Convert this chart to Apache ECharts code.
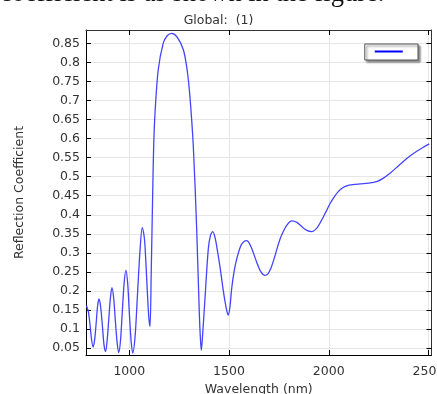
<!DOCTYPE html>
<html>
<head>
<meta charset="utf-8">
<script src="https://cdn.jsdelivr.net/npm/echarts@6/dist/echarts.min.js"></script>
<style>
html,body{margin:0;padding:0;background:#fff;}
#chart{width:437px;height:394px;}
</style>
</head>
<body>
<div id="chart"></div>
<script>
// Data
var wavelength = [785, 795, 803, 811, 819, 827, 834, 841, 848, 856, 865, 873, 881, 889, 897, 905, 913, 922, 930, 939, 947, 956, 965, 974, 983, 992, 1000, 1009, 1017, 1029, 1040, 1053, 1065, 1074, 1079, 1090, 1098, 1104, 1110, 1117, 1122, 1129, 1145, 1170, 1190, 1213, 1240, 1271, 1290, 1304, 1321, 1338, 1351, 1356, 1361, 1367, 1380, 1396, 1407, 1418, 1430, 1443, 1455, 1468, 1480, 1490, 1496, 1505, 1513, 1525, 1539, 1560, 1575, 1589, 1605, 1622, 1639, 1660, 1680, 1695, 1710, 1725, 1739, 1755, 1772, 1790, 1814, 1840, 1865, 1890, 1915, 1940, 1960, 1985, 2006, 2030, 2050, 2070, 2090, 2120, 2157, 2200, 2240, 2270, 2307, 2350, 2391, 2430, 2470, 2504];
var reflection = [0.162, 0.145, 0.112, 0.072, 0.053, 0.075, 0.116, 0.160, 0.179, 0.160, 0.110, 0.060, 0.041, 0.070, 0.125, 0.180, 0.209, 0.180, 0.123, 0.065, 0.038, 0.070, 0.146, 0.220, 0.254, 0.220, 0.145, 0.070, 0.037, 0.080, 0.180, 0.300, 0.366, 0.345, 0.317, 0.203, 0.130, 0.107, 0.250, 0.448, 0.575, 0.667, 0.780, 0.850, 0.870, 0.876, 0.866, 0.833, 0.780, 0.710, 0.579, 0.360, 0.142, 0.080, 0.044, 0.080, 0.185, 0.310, 0.346, 0.356, 0.340, 0.302, 0.262, 0.213, 0.172, 0.145, 0.137, 0.160, 0.205, 0.250, 0.285, 0.320, 0.330, 0.332, 0.322, 0.300, 0.275, 0.250, 0.241, 0.245, 0.260, 0.283, 0.308, 0.335, 0.356, 0.373, 0.384, 0.380, 0.369, 0.359, 0.356, 0.365, 0.382, 0.407, 0.429, 0.449, 0.462, 0.471, 0.476, 0.479, 0.481, 0.483, 0.487, 0.495, 0.509, 0.529, 0.548, 0.563, 0.576, 0.586];
var xTicks = [1000, 1500, 2000, 2500];
var yTicks = [0.05, 0.1, 0.15, 0.2, 0.25, 0.3, 0.35, 0.4, 0.45, 0.5, 0.55, 0.6, 0.65, 0.7, 0.75, 0.8, 0.85];
var titleText = 'Global:  (1)';
var xName = 'Wavelength (nm)';
var yName = 'Reflection Coefficient';
var captionText = 'coefficient is as shown in the figure.';

var points = wavelength.map(function (w, i) { return [w, reflection[i]]; });
var FONT = 'DejaVu Sans';
var xMin = 783, xMax = 2515, yMin = 0.032, yMax = 0.885;

var chart = echarts.init(document.getElementById('chart'), null, {renderer: 'canvas'});
chart.setOption({
  animation: false,
  backgroundColor: '#ffffff',
  title: {
    text: titleText, left: 'center', top: 9,
    textStyle: {fontFamily: FONT, fontSize: 12.5, fontWeight: 'normal', color: '#333'}
  },
  graphic: [{
    type: 'text', left: 0, top: -19,
    style: {text: captionText, font: '26.5px "Liberation Serif"', fill: '#111'}
  }],
  legend: {
    show: true, right: 19, top: 44,
    data: [{name: ' '}],
    icon: 'rect', itemWidth: 28, itemHeight: 2, itemGap: 4,
    padding: [4, 8, 5, 10],
    textStyle: {fontSize: 7, fontFamily: FONT},
    backgroundColor: '#fff', borderColor: '#555', borderWidth: 1,
    shadowColor: 'rgba(0,0,0,0.45)', shadowBlur: 2, shadowOffsetX: 2, shadowOffsetY: 2,
    itemStyle: {color: '#0000ff'}
  },
  grid: {left: 86, right: 5.5, top: 30, bottom: 39, containLabel: false, outerBoundsMode: 'none'},
  xAxis: [{
    type: 'value', min: xMin, max: xMax, position: 'bottom',
    name: xName, nameLocation: 'middle', nameGap: 22,
    nameTextStyle: {fontFamily: FONT, fontSize: 12.5, color: '#333'},
    axisLine: {show: true, onZero: false, lineStyle: {color: '#000', width: 1}},
    axisTick: {show: true, inside: true, length: 5, customValues: xTicks, lineStyle: {color: '#000'}},
    axisLabel: {customValues: xTicks, fontFamily: FONT, fontSize: 12.5, color: '#333', margin: 10,
      formatter: function (v) { return String(v); }},
    splitLine: {show: true, lineStyle: {color: '#e6e6e6', width: 1}}
  }, {
    type: 'value', min: xMin, max: xMax, position: 'top',
    axisLine: {show: true, onZero: false, lineStyle: {color: '#333', width: 1}},
    axisTick: {show: true, inside: true, length: 5, customValues: xTicks, lineStyle: {color: '#000'}},
    axisLabel: {show: false}, splitLine: {show: false}
  }],
  yAxis: [{
    type: 'value', min: yMin, max: yMax, position: 'left',
    name: yName, nameLocation: 'middle', nameGap: 60, nameRotate: 90,
    nameTextStyle: {fontFamily: FONT, fontSize: 12.5, color: '#333'},
    axisLine: {show: true, onZero: false, lineStyle: {color: '#000', width: 1}},
    axisTick: {show: true, inside: true, length: 5, customValues: yTicks, lineStyle: {color: '#000'}},
    axisLabel: {customValues: yTicks, fontFamily: FONT, fontSize: 12.5, color: '#333', margin: 6},
    splitLine: {show: true, lineStyle: {color: '#e6e6e6', width: 1}}
  }, {
    type: 'value', min: yMin, max: yMax, position: 'right',
    axisLine: {show: true, onZero: false, lineStyle: {color: '#333', width: 1}},
    axisTick: {show: true, inside: true, length: 5, customValues: yTicks, lineStyle: {color: '#000'}},
    axisLabel: {show: false}, splitLine: {show: false}
  }],
  series: [{
    name: ' ', type: 'line', xAxisIndex: 0, yAxisIndex: 0,
    data: points, smooth: 0.3, showSymbol: false, symbol: 'none',
    lineStyle: {color: '#4444ff', width: 1.3},
    itemStyle: {color: '#0000ff'}
  }]
});
</script>
</body>
</html>
